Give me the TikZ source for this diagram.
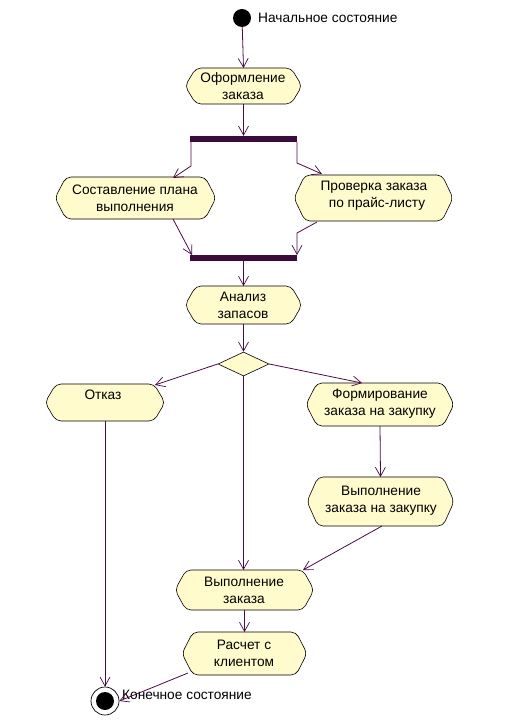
\documentclass[tikz,border=0pt]{standalone}
\usepackage{fontspec}
\setmainfont{Liberation Sans}
\usetikzlibrary{arrows.meta,shapes.geometric}
\definecolor{lc}{HTML}{4A0A45}
\definecolor{barc}{HTML}{3C0A3C}
\definecolor{fillc}{HTML}{FFFBCC}
\tikzset{
  conn/.style={draw=lc, line width=0.8pt, -{Straight Barb[length=9pt,width=10pt,line width=0.7pt]}},
  txt/.style={font=\fontsize{13.7}{17}\selectfont, align=center, inner sep=0pt},
  lbl/.style={font=\fontsize{13.7}{16}\selectfont, inner sep=0pt, anchor=west},
  bar/.style={fill=barc, draw=none, minimum width=107pt, minimum height=6pt, inner sep=0pt},
}
% activity shape: \actbox{name}{x0}{y0}{x1}{y1}
\newcommand{\actbox}[5]{%
  \path[fill=fillc, draw=black, line width=0.6pt, rounded corners=5pt]
    (#2+11,#3) -- (#4-11,#3) -- (#4,{(#3+#5)/2}) -- (#4-11,#5) -- (#2+11,#5) -- (#2,{(#3+#5)/2}) -- cycle;
  \coordinate (#1) at ({(#2+#4)/2},{(#3+#5)/2});
  \coordinate (#1-n) at ({(#2+#4)/2},#3);
  \coordinate (#1-s) at ({(#2+#4)/2},#5);
}
\begin{document}
\begin{tikzpicture}[x=1pt,y=-1pt]
\useasboundingbox (0,0) rectangle (508,727);
% initial
\node[circle, fill=black, minimum size=18pt, inner sep=0pt] (init) at (242,18) {};
\node[lbl] (initl) at (258,18) {Начальное состояние};
% activities
\actbox{a1}{185}{68}{302}{104}
\node[txt] (t1) at (243,86) {Оформление\\заказа};
\node[bar] (fork) at (243.5,139) {};
\actbox{a2}{55}{177}{216}{219}
\node[txt] (t2) at (135,198) {Составление плана\\выполнения};
\actbox{a3}{294}{175}{453}{221}
\node[txt] (t3) at (374,196) {Проверка заказа\\\hspace*{6pt}по прайс-листу};
\node[bar] (join) at (243.5,258) {};
\actbox{a4}{185}{286}{302}{324}
\node[txt] (t4) at (243,305) {Анализ\\запасов};
\node[diamond, aspect=2.1, fill=fillc, draw=black, line width=0.6pt, minimum width=51pt, minimum height=24pt, inner sep=0pt] (dec) at (243.5,364) {};
\actbox{a5}{45}{384}{165}{421}
\node[txt] (t5) at (103,395) {Отказ};
\actbox{a6}{306}{383}{454}{426}
\node[txt] (t6) at (380,404) {Формирование\\заказа на закупку};
\actbox{a7}{307}{477}{454}{526}
\node[txt] (t7) at (381,501) {Выполнение\\заказа на закупку};
\actbox{a8}{175}{570}{314}{610}
\node[txt] (t8) at (244,590) {Выполнение\\заказа};
\actbox{a9}{182}{632}{307}{675}
\node[txt] (t9) at (244,653) {Расчет с\\клиентом};
% final
\node[circle, draw=black, line width=0.7pt, fill=white, minimum size=28pt, inner sep=0pt] (fin) at (105,701) {};
\node[circle, fill=black, minimum size=18pt, inner sep=0pt] (finc) at (fin) {};
\node[lbl] (finl) at (122,695) {Конечное состояние};
% connectors
\draw[conn] (init) -- (a1-n);
\draw[conn] (a1-s) -- (fork);
\coordinate (f1) at (191,142);
\coordinate (f1b) at (191,166);
\coordinate (f2) at (297,142);
\coordinate (f2b) at (297,163);
\draw[conn] (f1) -- (f1b) -- (173,178);
\draw[conn] (f2) -- (f2b) -- (322,174);
\draw[conn] (173,219) -- (192,255);
\draw[conn] (317,222) -- (297,233) -- (297,255);
\draw[conn] (join) -- (a4-n);
\draw[conn] (a4-s) -- (dec.north);
\draw[conn] (dec.west) -- (155,385);
\draw[conn] (dec.east) -- (362,383);
\draw[conn] (dec.south) -- (243.5,570);
\draw[conn] (105,421) -- (fin.north);
\draw[conn] (a6-s) -- (a7-n);
\draw[conn] (382,526) -- (303,570);
\draw[conn] (a8-s) -- (a9-n);
\draw[conn] (188,673) -- (fin.east);
\end{tikzpicture}
\end{document}
